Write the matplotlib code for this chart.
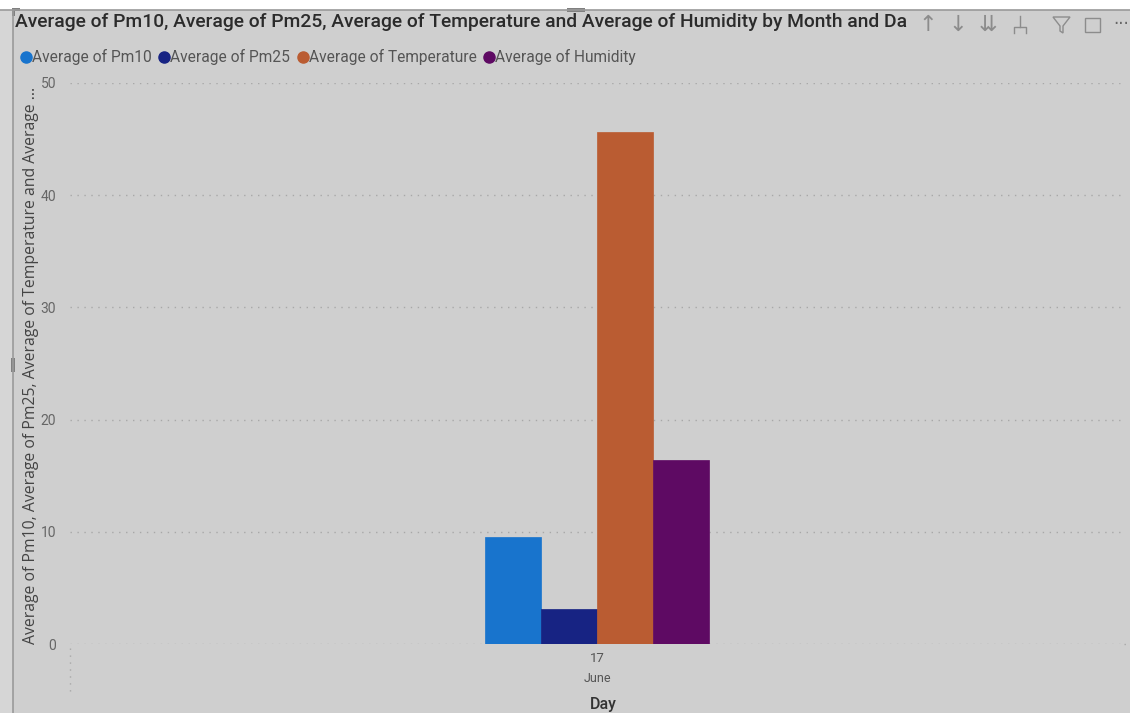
import matplotlib
matplotlib.use("Agg")
import matplotlib.pyplot as plt
from matplotlib.patches import Rectangle, Polygon
from matplotlib.lines import Line2D
import numpy as np

# ── Data ──────────────────────────────────────────────────────────────────────
SERIES  = ["Average of Pm10", "Average of Pm25",
           "Average of Temperature", "Average of Humidity"]
VALUES  = [9.55, 3.1, 45.6, 16.4]
COLORS  = ["#1874cd", "#172383", "#ba5c32", "#5e0a63"]
DAY     = "17"
MONTH   = "June"
Y_TICKS = [0, 10, 20, 30, 40, 50]

# the card title is cut off by the header icons in the original
TITLE  = ("Average of Pm10, Average of Pm25, Average of Temperature and "
          "Average of Humidity by Month and Da")
YLABEL = "Average of Pm10, Average of Pm25, Average of Temperature and Average ..."

# ── Style ─────────────────────────────────────────────────────────────────────
BG    = "#cfcfcf"
FONT  = "Roboto"
W, H  = 1130, 713

plt.rcParams["font.family"] = [FONT, "DejaVu Sans"]

fig = plt.figure(figsize=(W / 100, H / 100), dpi=100, facecolor=BG)


def fx(px):
    return px / W


def fy(py):
    return 1 - py / H


# visual frame: white strip on top, border lines, resize handles
fig.patches.append(Rectangle((0, fy(10)), 1, 1 - fy(10), transform=fig.transFigure,
                             facecolor="white", edgecolor="none", zorder=0))
fig.patches.append(Rectangle((0, 0), fx(13), fy(10), transform=fig.transFigure,
                             facecolor="#d6d6d6", edgecolor="none", zorder=0))
fig.lines.append(Line2D([0, 1], [fy(10), fy(10)], transform=fig.transFigure,
                        color="#9a9a9a", lw=1.2))
fig.lines.append(Line2D([fx(13), fx(13)], [0, fy(10)], transform=fig.transFigure,
                        color="#9a9a9a", lw=1.2))
for (x0, y0, w, h) in [(567, 8, 18, 4), (11, 358, 4, 14), (12, 8, 8, 3), (12, 8, 3, 8)]:
    fig.patches.append(Rectangle((fx(x0), fy(y0 + h)), fx(w), h / H,
                                 transform=fig.transFigure, facecolor="#808080",
                                 edgecolor="none"))

# ── Axes ──────────────────────────────────────────────────────────────────────
ax_left, ax_right = 70, 1124
ax_top, ax_bottom = 83, 644
ax = fig.add_axes([fx(ax_left), fy(ax_bottom), fx(ax_right - ax_left),
                   (ax_bottom - ax_top) / H])
ax.set_facecolor(BG)

n = len(SERIES)
bar_w = 0.25
group_px = 224
half_span = (n * bar_w) * (ax_right - ax_left) / group_px / 2
offsets = (np.arange(n) - (n - 1) / 2) * bar_w
for off, val, col, name in zip(offsets, VALUES, COLORS, SERIES):
    ax.bar(off, val, width=bar_w, color=col, label=name, zorder=3,
           edgecolor=col, linewidth=0.5)

ax.set_xlim(-half_span, half_span)
ax.set_ylim(0, 50)
ax.set_yticks(Y_TICKS)
ax.set_yticklabels([str(t) for t in Y_TICKS])
ax.yaxis.grid(True, linestyle=(0, (1, 4)), color="#a8a8a8", lw=1.0, zorder=0)
ax.tick_params(axis="y", length=0, pad=10, labelsize=10, labelcolor="#666666")
for s in ax.spines.values():
    s.set_visible(False)

ax.set_xticks([0])
ax.set_xticklabels([DAY])
ax.tick_params(axis="x", length=0, pad=6, labelsize=9.5, labelcolor="#555555")
ax.text(0, -35 / (ax_bottom - ax_top), MONTH, transform=ax.get_xaxis_transform(),
        ha="center", va="center", fontsize=9, color="#555555")
fig.text(fx(603), fy(704), "Day", ha="center", va="center", fontsize=11.5,
         color="#333333", fontweight="medium")

# gridlines run on to the right edge of the card
fig.lines.append(Line2D([fx(ax_right), 1], [fy(ax_bottom), fy(ax_bottom)],
                        transform=fig.transFigure, color="#a8a8a8",
                        linestyle=(0, (1, 4)), lw=1.0))

# dotted stub below the axis at the left edge
fig.lines.append(Line2D([fx(ax_left), fx(ax_left)], [fy(648), fy(692)],
                        transform=fig.transFigure, color="#a8a8a8",
                        linestyle=(0, (1, 4)), lw=1.0))

# y label (truncated like the original)
fig.text(fx(31), fy(644), YLABEL, rotation=90, ha="center", va="bottom",
         fontsize=11.3, color="#444444", family=["Open Sans", "DejaVu Sans"])

# ── Title (cut off by the header icons) ───────────────────────────────────────
fig.text(fx(15), fy(22), TITLE, ha="left", va="center", fontsize=13.9,
         color="#2b2b2b", fontweight="medium", zorder=3)
fig.patches.append(Rectangle((fx(913), fy(34)), 1 - fx(913), 23 / H,
                             transform=fig.transFigure, facecolor=BG,
                             edgecolor="none", zorder=4))

# header icons
icon_col = "#8c8c8c"
for x, glyph in [(928, "↑"), (958, "↓"), (988, "⇊")]:
    fig.text(fx(x), fy(25), glyph, ha="center", va="center", fontsize=16,
             color=icon_col, family="DejaVu Sans", zorder=5)
fig.lines.append(Line2D([fx(1020), fx(1020), fx(1014), fx(1014)],
                        [fy(16), fy(27), fy(27), fy(33)],
                        transform=fig.transFigure, color=icon_col, lw=1, zorder=5))
fig.lines.append(Line2D([fx(1020), fx(1026), fx(1026)], [fy(27), fy(27), fy(33)],
                        transform=fig.transFigure, color=icon_col, lw=1, zorder=5))
fig.patches.append(Polygon([(fx(1053), fy(17)), (fx(1070), fy(17)), (fx(1063), fy(26)),
                            (fx(1063), fy(33)), (fx(1060), fy(31)), (fx(1060), fy(26))],
                           closed=True, transform=fig.transFigure, fill=False,
                           edgecolor=icon_col, lw=1, zorder=5))
fig.patches.append(Rectangle((fx(1085), fy(32)), fx(15), 14 / H, transform=fig.transFigure,
                             fill=False, edgecolor=icon_col, lw=1, zorder=5))
fig.text(fx(1121), fy(24), "···", ha="center", va="center", fontsize=12,
         color="#666666", family="DejaVu Sans", zorder=5)

# ── Legend ────────────────────────────────────────────────────────────────────
handles = [Line2D([], [], marker="o", linestyle="none", markersize=8,
                  markerfacecolor=c, markeredgecolor=c) for c in COLORS]
fig.legend(handles, SERIES, loc="center left", bbox_to_anchor=(fx(18), fy(57)),
           ncol=n, frameon=False, handletextpad=-0.1, columnspacing=0.3,
           handlelength=1.0, borderaxespad=0, borderpad=0,
           prop={"size": 11.2, "family": [FONT]}, labelcolor="#555555")

fig.savefig("out.png", dpi=100, facecolor=BG)
